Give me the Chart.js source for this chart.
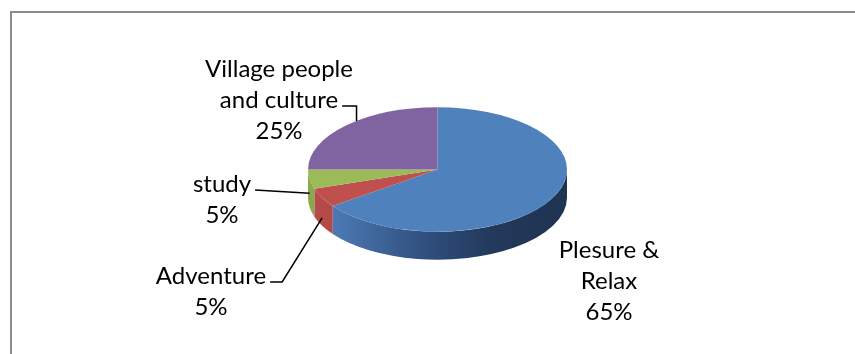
<!DOCTYPE html>
<html>
<head>
<meta charset="utf-8">
<script src="https://cdn.jsdelivr.net/npm/chart.js@4.4.1/dist/chart.umd.min.js"></script>
<style>
  html, body { margin: 0; padding: 0; background: #ffffff; overflow: hidden; }
  canvas { display: block; }
</style>
</head>
<body>
<canvas id="chart" width="855" height="354"></canvas>
<script>
// Reasons for visiting, share of respondents (%)
const categories = ['Plesure & Relax', 'Adventure', 'study', 'Village people and culture'];
const shares = [65, 5, 5, 25];
// How each category name is broken over lines in its label
const labelLines = [['Plesure &', 'Relax'], ['Adventure'], ['study'], ['Village people', 'and culture']];

// Styling
const topColors = ['#4f81bd', '#c0504d', '#9bbb59', '#8064a2'];
const sideStops = [
  [[0, '#4f7fbb'], [0.12, '#4a77b1'], [0.45, '#304f7e'], [0.7, '#233a5c'], [1, '#1f3352']],
  [[0, '#b84d4a'], [0.3, '#a4423f'], [1, '#8a3634']],
  [[0, '#8ba84f'], [1, '#7a9444']],
  [[0, '#735a92'], [1, '#5f4a7a']]
];
const TILT = 0.48;      // vertical squash of the pie disc
const DEPTH = 28;       // thickness of the disc in px
const FONT = '24px Lato';
const LINE_H = 31;

// Where each label block sits (centre x, first baseline) and how its leader runs
const labelLayout = [
  { x: 609, y: 258 },
  { x: 211, y: 284, leader: { line: 0, kind: 'elbow', run: 12, along: 0.5, drop: 0.72 } },
  { x: 222, y: 192, leader: { line: 0, kind: 'straight', along: 0.5, drop: 0.5 } },
  { x: 279, y: 77,  leader: { line: 1, kind: 'corner', along: 0.57, drop: 0 } }
];

const total = shares.reduce((a, b) => a + b, 0);

function discGeometry(chart) {
  const arcs = chart.getDatasetMeta(0).data;
  const a0 = arcs[0];
  return { arcs, cx: a0.x, cy: a0.y, r: a0.outerRadius, ry: a0.outerRadius * TILT };
}

// Draws the visible side wall of the disc, then squashes the slices into an ellipse
const tiltPlugin = {
  id: 'tilt',
  beforeDatasetsDraw(chart) {
    const ctx = chart.ctx;
    const { arcs, cx, cy, r, ry } = discGeometry(chart);
    arcs.forEach((arc, i) => {
      const a = Math.max(arc.startAngle, 0);
      const b = Math.min(arc.endAngle, Math.PI);
      if (b <= a) return;
      const g = ctx.createLinearGradient(cx - r, 0, cx + r, 0);
      sideStops[i].forEach(([o, c]) => g.addColorStop(o, c));
      ctx.beginPath();
      ctx.ellipse(cx, cy, r, ry, 0, a, b);
      ctx.lineTo(cx + r * Math.cos(b), cy + ry * Math.sin(b) + DEPTH);
      ctx.ellipse(cx, cy + DEPTH, r, ry, 0, b, a, true);
      ctx.closePath();
      ctx.fillStyle = g;
      ctx.fill();
    });
    ctx.save();
    ctx.translate(0, cy);
    ctx.scale(1, TILT);
    ctx.translate(0, -cy);
  },
  afterDatasetsDraw(chart) {
    chart.ctx.restore();
  }
};

// Outer frame and the category labels with their leader lines
const labelPlugin = {
  id: 'sliceLabels',
  beforeDraw(chart) {
    const ctx = chart.ctx;
    ctx.save();
    ctx.strokeStyle = '#8c8c8c';
    ctx.lineWidth = 2;
    ctx.beginPath();
    ctx.moveTo(11, chart.height + 5);
    ctx.lineTo(11, 12);
    ctx.lineTo(chart.width + 5, 12);
    ctx.stroke();
    ctx.restore();
  },
  afterDraw(chart) {
    const ctx = chart.ctx;
    const { arcs, cx, cy, r, ry } = discGeometry(chart);
    ctx.save();
    ctx.font = FONT;
    ctx.fillStyle = '#000000';
    ctx.textAlign = 'center';
    ctx.textBaseline = 'alphabetic';
    shares.forEach((v, i) => {
      const pos = labelLayout[i];
      const lines = labelLines[i].concat([Math.round(v / total * 100) + '%']);
      lines.forEach((t, k) => ctx.fillText(t, pos.x, pos.y + k * LINE_H));
      const ld = pos.leader;
      if (!ld) return;
      const arc = arcs[i];
      const ang = arc.startAngle + (arc.endAngle - arc.startAngle) * ld.along;
      const tx = cx + r * Math.cos(ang);
      const ty = cy + ry * Math.sin(ang) + DEPTH * ld.drop;
      const w = ctx.measureText(lines[ld.line]).width;
      const sx = pos.x + w / 2 + 4;
      const sy = pos.y + ld.line * LINE_H - 2;
      ctx.beginPath();
      ctx.moveTo(sx, sy);
      if (ld.kind === 'elbow') ctx.lineTo(sx + ld.run, sy);
      if (ld.kind === 'corner') ctx.lineTo(tx, sy);
      ctx.lineTo(tx, ty);
      ctx.strokeStyle = '#000000';
      ctx.lineWidth = 1.5;
      ctx.stroke();
    });
    ctx.restore();
  }
};

new Chart(document.getElementById('chart'), {
  type: 'pie',
  data: {
    labels: categories,
    datasets: [{
      data: shares,
      backgroundColor: topColors,
      borderWidth: 0
    }]
  },
  options: {
    responsive: false,
    animation: false,
    events: [],
    layout: { padding: { left: 20, right: 0, top: 40, bottom: 55 } },
    plugins: {
      legend: { display: false },
      tooltip: { enabled: false }
    }
  },
  plugins: [tiltPlugin, labelPlugin]
});
</script>
</body>
</html>
